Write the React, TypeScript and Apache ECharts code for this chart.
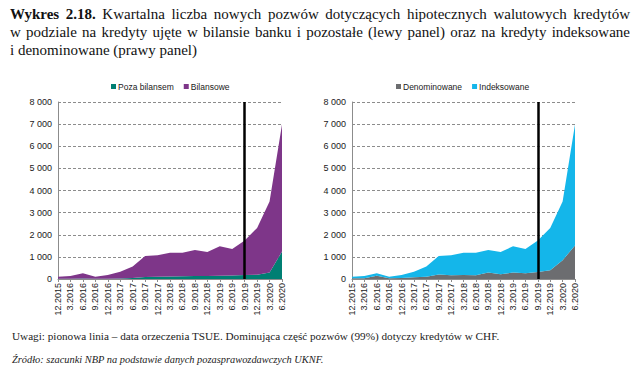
import React, { useEffect, useRef } from "react";
import * as echarts from "echarts";

const categories = [
  "12.2015", "3.2016", "6.2016", "9.2016", "12.2016", "3.2017", "6.2017", "9.2017",
  "12.2017", "3.2018", "6.2018", "9.2018", "12.2018", "3.2019", "6.2019", "9.2019",
  "12.2019", "3.2020", "6.2020",
];

// Left panel
const pozaBilansem = [10, 10, 20, 15, 15, 20, 40, 90, 100, 110, 120, 130, 140, 150, 160, 180, 190, 290, 1240];
const bilansowe = [95, 125, 236, 90, 165, 310, 520, 950, 970, 1080, 1070, 1180, 1080, 1330, 1200, 1555, 2120, 3210, 5740];

// Right panel
const denominowane = [30, 30, 150, 30, 45, 75, 105, 200, 165, 180, 165, 290, 210, 290, 255, 320, 400, 850, 1510];
const indeksowane = [75, 105, 106, 75, 135, 255, 455, 840, 905, 1010, 1025, 1020, 1010, 1190, 1105, 1415, 1910, 2650, 5470];

const tsueDate = "9.2019";
const yTicks = { min: 0, max: 8000, interval: 1000 };

const titleLines = [
  "Wykres 2.18. Kwartalna liczba nowych pozwów dotyczących hipotecznych walutowych kredytów",
  "w podziale na kredyty ujęte w bilansie banku i pozostałe (lewy panel) oraz na kredyty indeksowane",
  "i denominowane (prawy panel)",
];
const noteText = "Uwagi: pionowa linia – data orzeczenia TSUE. Dominująca część pozwów (99%) dotyczy kredytów w CHF.";
const sourceText = "Źródło: szacunki NBP na podstawie danych pozasprawozdawczych UKNF.";

const SERIF = '"Liberation Serif", "Times New Roman", serif';
const SANS = '"Liberation Sans", Arial, sans-serif';

function buildTitle(): any[] {
  const canvas = document.createElement("canvas");
  const ctx = canvas.getContext("2d")!;
  const fs = 15;
  const x0 = 10;
  const x1 = 630;
  const ys = [14, 32, 50];
  const els: any[] = [];
  titleLines.forEach((line, li) => {
    const words = line.split(" ");
    const items = words.map((w, wi) => {
      const bold = li === 0 && wi < 2;
      ctx.font = `${bold ? "bold " : ""}${fs}px ${SERIF}`;
      return { t: w, bold, w: ctx.measureText(w).width };
    });
    const total = items.reduce((s, it) => s + it.w, 0);
    ctx.font = `${fs}px ${SERIF}`;
    const space = ctx.measureText(" ").width;
    const justify = li < titleLines.length - 1;
    const gap = justify ? (x1 - x0 - total) / (items.length - 1) : space;
    let x = x0;
    items.forEach((it) => {
      els.push({
        type: "text",
        x,
        y: ys[li],
        style: {
          text: it.t,
          font: `${it.bold ? "bold " : ""}${fs}px ${SERIF}`,
          fill: "#111",
          textAlign: "left",
          textVerticalAlign: "middle",
        },
      });
      x += it.w + gap;
    });
  });
  return els;
}

const fmt = (v: number) => {
  const s = String(Math.round(v));
  return s.replace(/\B(?=(\d{3})+(?!\d))/g, " ");
};

export default function App() {
  const ref = useRef<HTMLDivElement>(null);
  useEffect(() => {
    document.body.style.margin = "0";
    const chart = echarts.init(ref.current!, null, { renderer: "svg", width: 640, height: 372 });

    const grids = [
      { left: 58, top: 102, width: 224, height: 177 },
      { left: 352, top: 102, width: 223, height: 177 },
    ];
    const xAxes = [0, 1].map((gi) => ({
      type: "category",
      gridIndex: gi,
      data: categories,
      boundaryGap: false,
      axisLine: { show: true, lineStyle: { color: "#8c8c8c", width: 1 } },
      axisTick: { show: true, length: 3, lineStyle: { color: "#8c8c8c" } },
      axisLabel: {
        rotate: 90,
        interval: 0,
        fontSize: 9,
        fontFamily: SANS,
        color: "#1a1a1a",
        margin: 4,
      },
      splitLine: { show: false },
    }));
    const yAxes = [0, 1].map((gi) => ({
      type: "value",
      gridIndex: gi,
      min: yTicks.min,
      max: yTicks.max,
      interval: yTicks.interval,
      axisLine: { show: true, lineStyle: { color: "#8c8c8c", width: 1 } },
      axisTick: { show: false },
      axisLabel: {
        fontSize: 9,
        fontFamily: SANS,
        color: "#1a1a1a",
        margin: 6,
        formatter: (v: number) => fmt(v),
      },
      splitLine: { show: true, lineStyle: { color: "#8c8c8c", type: [3, 2], width: 1 } },
    }));

    const areaSeries = (name: string, data: number[], color: string, gi: number, stack: string, mark: boolean) => {
      const s: any = {
        name,
        type: "line",
        xAxisIndex: gi,
        yAxisIndex: gi,
        stack,
        data,
        symbol: "none",
        lineStyle: { width: 0, color },
        itemStyle: { color },
        areaStyle: { color, opacity: 1 },
        z: 2,
      };
      if (mark) {
        s.markLine = {
          silent: true,
          symbol: ["none", "none"],
          label: { show: false },
          lineStyle: { color: "#000", width: 2.5, type: "solid" },
          data: [{ xAxis: tsueDate }],
          z: 5,
        };
      }
      return s;
    };

    const legendCommon = {
      top: 82,
      itemWidth: 5,
      itemHeight: 5,
      itemGap: 10,
      icon: "rect",
      padding: 0,
      textStyle: { fontSize: 8.5, fontFamily: SANS, color: "#1a1a1a", padding: [0, 0, 0, -3] },
    };

    const option: any = {
      animation: false,
      backgroundColor: "#fff",
      grid: grids,
      xAxis: xAxes,
      yAxis: yAxes,
      legend: [
        { ...legendCommon, left: 111, data: ["Poza bilansem", "Bilansowe"] },
        { ...legendCommon, left: 396, data: ["Denominowane", "Indeksowane"] },
      ],
      series: [
        areaSeries("Poza bilansem", pozaBilansem, "#007f73", 0, "L", false),
        areaSeries("Bilansowe", bilansowe, "#7e3689", 0, "L", true),
        areaSeries("Denominowane", denominowane, "#6c6d70", 1, "R", false),
        areaSeries("Indeksowane", indeksowane, "#14b6ea", 1, "R", true),
      ],
      graphic: [
        ...buildTitle(),
        {
          type: "text",
          x: 12,
          y: 336,
          style: {
            text: noteText,
            font: `11.2px ${SERIF}`,
            fill: "#222",
            textAlign: "left",
            textVerticalAlign: "middle",
          },
        },
        {
          type: "text",
          x: 12,
          y: 359,
          style: {
            text: sourceText,
            font: `italic 10.4px ${SERIF}`,
            fill: "#222",
            textAlign: "left",
            textVerticalAlign: "middle",
          },
        },
      ],
    };
    chart.setOption(option);
    return () => chart.dispose();
  }, []);
  return <div ref={ref} style={{ width: 640, height: 372 }} />;
}
